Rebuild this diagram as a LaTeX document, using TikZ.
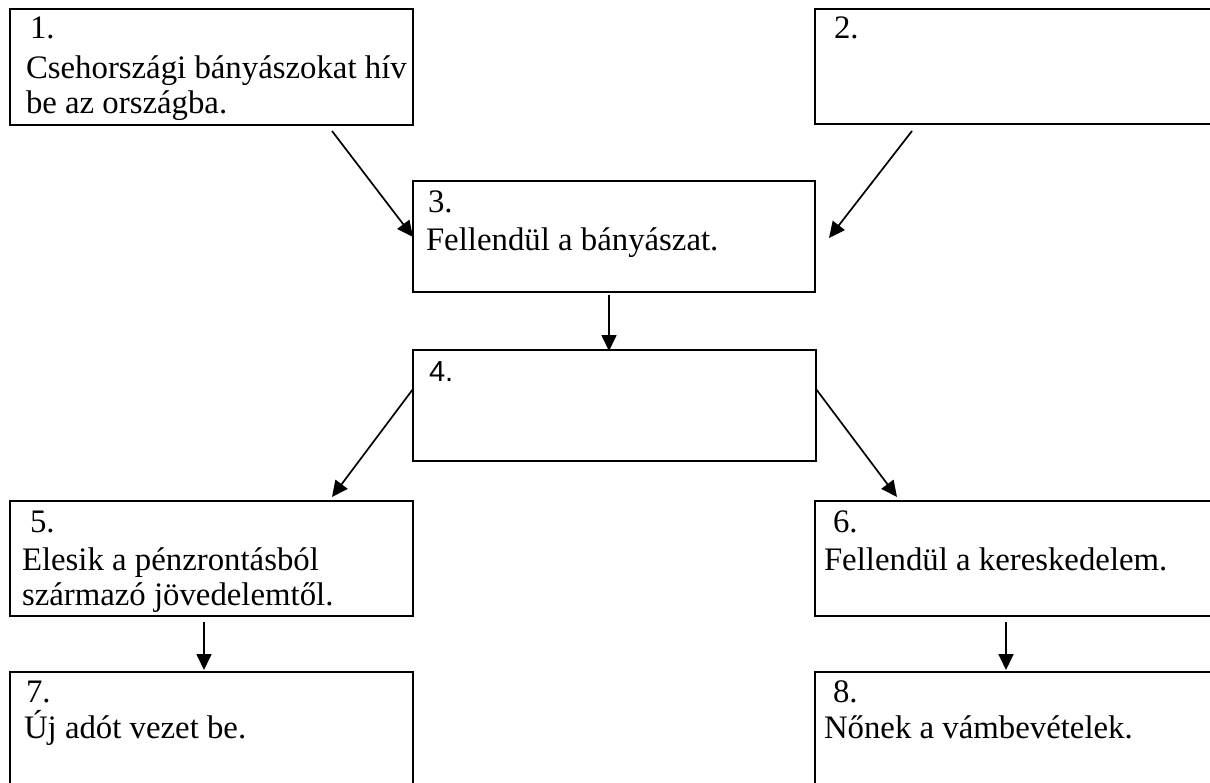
\documentclass[tikz,border=0pt]{standalone}
\usepackage{fontspec}
\setmainfont{Liberation Serif}
\newfontfamily\arialfont{Liberation Sans}
\usetikzlibrary{arrows.meta}
\begin{document}
\begin{tikzpicture}[x=1pt,y=-1pt,
  boxnode/.style={draw=black,line width=2.6pt,inner sep=0pt,outer sep=0pt,rectangle},
  txt/.style={anchor=base west,inner sep=0pt,outer sep=0pt,font=\fontsize{32.8}{37}\selectfont},
  sanstxt/.style={anchor=base west,inner sep=0pt,outer sep=0pt,font=\arialfont\fontsize{29}{33}\selectfont},
  arr/.style={line width=1.7pt,-{Triangle[length=16pt,width=15pt]},shorten >=0pt}]
\path[use as bounding box] (0,0) rectangle (1210,782);
\clip (0,0) rectangle (1210,782);
\fill[white] (0,0) rectangle (1210,782);
% boxes
\node[boxnode,minimum width=403pt,minimum height=116pt] (b1) at (211.5,67) {};
\node[boxnode,minimum width=410pt,minimum height=115pt] (b2) at (1020,66.5) {};
\node[boxnode,minimum width=402pt,minimum height=111pt] (b3) at (614,236.5) {};
\node[boxnode,minimum width=403pt,minimum height=111pt] (b4) at (614.5,405.5) {};
\node[boxnode,minimum width=403pt,minimum height=115pt] (b5) at (211.5,558.5) {};
\node[boxnode,minimum width=410pt,minimum height=115pt] (b6) at (1020,558.5) {};
\node[boxnode,minimum width=403pt,minimum height=128pt] (b7) at (211.5,736) {};
\node[boxnode,minimum width=410pt,minimum height=128pt] (b8) at (1020,736) {};
% texts
\node[txt] (t1n) at (30,38) {1.};
\node[txt] (t1a) at (26,78) {Csehországi bányászokat hív};
\node[txt] (t1b) at (26,113) {be az országba.};
\node[txt] (t2n) at (834,38) {2.};
\node[txt] (t3n) at (428,212) {3.};
\node[txt] (t3a) at (426,250) {Fellendül a bányászat.};
\node[sanstxt] (t4n) at (429,381) {4.};
\node[txt] (t5n) at (30,532) {5.};
\node[txt] (t5a) at (22,570) {Elesik a pénzrontásból};
\node[txt] (t5b) at (22,605) {származó jövedelemtől.};
\node[txt] (t6n) at (833,532) {6.};
\node[txt] (t6a) at (824,570) {Fellendül a kereskedelem.};
\node[txt] (t7n) at (26,702) {7.};
\node[txt] (t7a) at (24,738) {Új adót vezet be.};
\node[txt] (t8n) at (833,702) {8.};
\node[txt] (t8a) at (824,738) {Nőnek a vámbevételek.};
% connector end points
\coordinate (c13s) at (332,131);
\coordinate (c13e) at (413,237);
\coordinate (c23s) at (912,131);
\coordinate (c23e) at (829,238);
\coordinate (c34s) at (609,295);
\coordinate (c34e) at (609,351);
\coordinate (c45s) at (413,389);
\coordinate (c45e) at (332,497);
\coordinate (c46s) at (816,389);
\coordinate (c46e) at (897,497);
\coordinate (c57s) at (204,622);
\coordinate (c57e) at (204,670);
\coordinate (c68s) at (1006,622);
\coordinate (c68e) at (1006,670);
% connectors
\draw[arr] (c13s) -- (c13e);
\draw[arr] (c23s) -- (c23e);
\draw[arr] (c34s) -- (c34e);
\draw[arr] (c45s) -- (c45e);
\draw[arr] (c46s) -- (c46e);
\draw[arr] (c57s) -- (c57e);
\draw[arr] (c68s) -- (c68e);
\end{tikzpicture}
\end{document}
